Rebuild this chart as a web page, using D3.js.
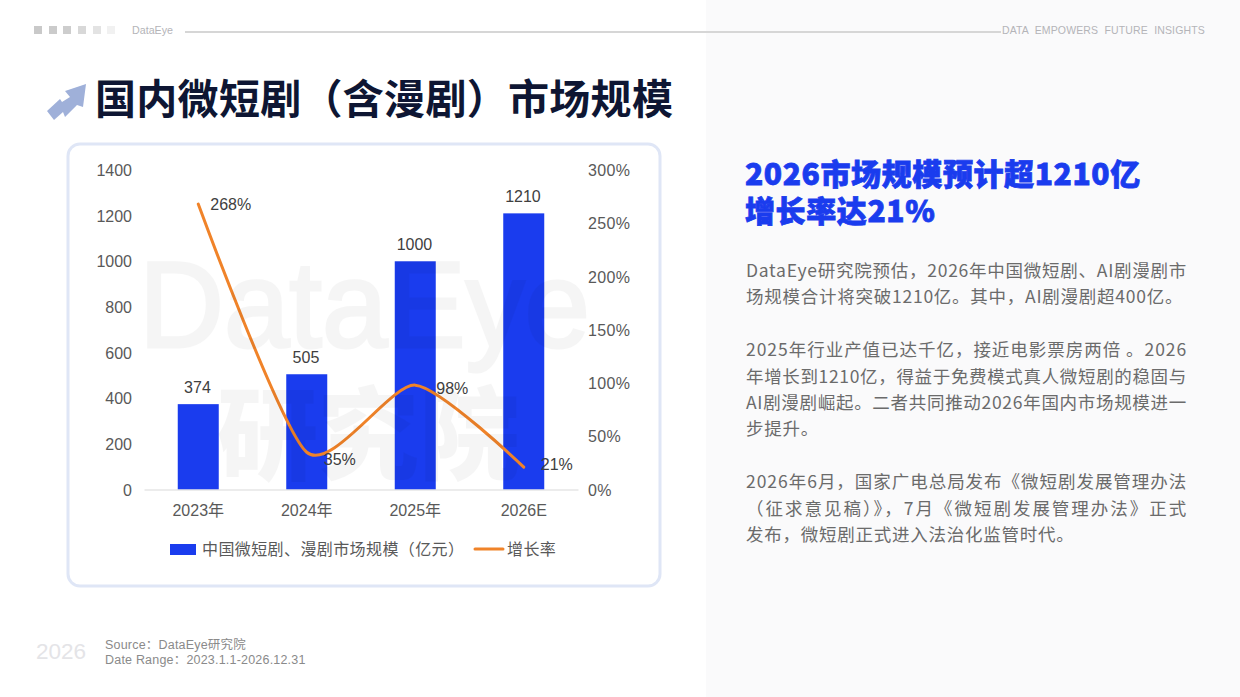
<!DOCTYPE html>
<html>
<head>
<meta charset="utf-8">
<script src="https://d3js.org/d3.v7.min.js"></script>
<style>
  html, body { margin: 0; padding: 0; background: #fff; overflow: hidden; }
  text { font-family: "Liberation Sans", "Noto Sans CJK SC", sans-serif; }
  .cjk { font-family: "Noto Sans CJK SC", sans-serif; }
  .tick text { font-size: 16px; fill: #595959; }
  .right-axis .tick text { letter-spacing: .35px; }
  .body-line { font-size: 17.5px; fill: #6b6b6b; letter-spacing: .75px; }
  .value-label { font-size: 16px; fill: #404040; }
</style>
</head>
<body>
<svg id="page" width="1240" height="697"></svg>
<script>

// chart data
var categories = ["2023年", "2024年", "2025年", "2026E"]
var marketSize = [374, 505, 1000, 1210]
var growthRate = [268, 35, 98, 21]
var sizeTicks = [0, 200, 400, 600, 800, 1000, 1200, 1400]
var rateTicks = [0, 50, 100, 150, 200, 250, 300]

// copy
var titleText = "国内微短剧（含漫剧）市场规模"
var headline = ["2026市场规模预计超1210亿", "增长率达21%"]
var bodyLines = [
  "DataEye研究院预估，2026年中国微短剧、AI剧漫剧市",
  "场规模合计将突破1210亿。其中，AI剧漫剧超400亿。",
  "",
  "2025年行业产值已达千亿，接近电影票房两倍 。2026",
  "年增长到1210亿，得益于免费模式真人微短剧的稳固与",
  "AI剧漫剧崛起。二者共同推动2026年国内市场规模进一",
  "步提升。",
  "",
  "2026年6月，国家广电总局发布《微短剧发展管理办法",
  "（征求意见稿）》，7月《微短剧发展管理办法》正式",
  "发布，微短剧正式进入法治化监管时代。"
]
// these lines run the full column width in the original
var justified = [0, 3, 4, 5, 8, 9]

var svg = d3.select("#page")
var blue = "#1a3cee", orange = "#f08329"

/* page furniture */
svg.append("rect").attr("x", 706).attr("y", 0).attr("width", 534).attr("height", 697).attr("fill", "#fafafb")

var squareFill = ["#c9c9c9", "#cbcbcb", "#cdcdcd", "#d8d8d8", "#e3e3e3", "#f1f1f1"]
var squareX = [34, 49, 63, 78, 93, 107]
svg.selectAll(".sq").data(squareX).enter().append("rect")
    .attr("x", function(d) { return d })
    .attr("y", 26).attr("width", 8).attr("height", 8)
    .attr("fill", function(d, i) { return squareFill[i] })

svg.append("text").attr("x", 132).attr("y", 34).attr("font-size", 10.7).attr("fill", "#b4b4b8").text("DataEye")
svg.append("line").attr("x1", 185).attr("x2", 1001).attr("y1", 32).attr("y2", 32)
    .attr("stroke", "#d6d6d6").attr("stroke-width", 2)
svg.append("text").attr("x", 1002).attr("y", 33.5).attr("font-size", 10.5).attr("fill", "#b4b4b8")
    .attr("word-spacing", 3.2).attr("letter-spacing", .14).text("DATA EMPOWERS FUTURE INSIGHTS")

// little arrow next to the title
svg.append("polygon")
    .attr("points", "86,84 65,91 70,97 62,102 60,99 47,111 54,120 63,112 65,117 77,105 83,107")
    .attr("fill", "#9fb0d9")

svg.append("text").attr("class", "cjk").attr("x", 95).attr("y", 114)
    .attr("font-size", 41).attr("font-weight", 700).attr("letter-spacing", .3).attr("fill", "#0e1633")
    .text(titleText)

/* card */
svg.append("rect").attr("x", 68).attr("y", 144).attr("width", 592).attr("height", 442).attr("rx", 12)
    .attr("fill", "#fff").attr("stroke", "#dfe6f6").attr("stroke-width", 3)

/* chart */
var x = d3.scaleBand().domain(categories).range([144, 578])
var yLeft = d3.scaleLinear().domain([0, 1400]).range([489.5, 170])
var yRight = d3.scaleLinear().domain([0, 300]).range([489.5, 170])
var barWidth = 41
var cx = function(c) { return x(c) + x.bandwidth() / 2 }

svg.append("g").attr("transform", "translate(132,0.5)")
    .call(d3.axisLeft(yLeft).tickValues(sizeTicks).tickSize(0).tickPadding(0).tickFormat(d3.format("d")))
    .call(function(g) { g.select(".domain").remove() })

svg.append("g").attr("class", "right-axis").attr("transform", "translate(588,0.5)")
    .call(d3.axisRight(yRight).tickValues(rateTicks).tickSize(0).tickPadding(0).tickFormat(function(d) { return d + "%" }))
    .call(function(g) { g.select(".domain").remove() })

svg.selectAll(".bar").data(marketSize).enter().append("rect")
    .attr("class", "bar")
    .attr("x", function(d, i) { return cx(categories[i]) - barWidth / 2 })
    .attr("width", barWidth)
    .attr("y", function(d) { return yLeft(d) })
    .attr("height", function(d) { return yLeft(0) - yLeft(d) })
    .attr("fill", blue)

svg.append("g").attr("transform", "translate(0,489.5)")
    .call(d3.axisBottom(x).tickSize(0).tickPadding(15))
    .call(function(g) { g.select(".domain").attr("stroke", "#d9d9d9").attr("stroke-width", 1.2) })

var line = d3.line()
    .x(function(d, i) { return cx(categories[i]) })
    .y(function(d) { return yRight(d) })
    .curve(d3.curveCardinal.tension(.32))

svg.append("path").datum(growthRate)
    .attr("d", line)
    .attr("fill", "none").attr("stroke", orange).attr("stroke-width", 3).attr("stroke-linecap", "round")

svg.selectAll(".bar-label").data(marketSize).enter().append("text")
    .attr("class", "value-label")
    .attr("x", function(d, i) { return cx(categories[i]) - 0.8 })
    .attr("y", function(d) { return yLeft(d) - 11 })
    .attr("text-anchor", "middle")
    .text(function(d) { return d })

// rate labels sit to the right of each point
var rateDx = [12, 17, 21, 17], rateDy = [6, 13, 9, 3]
svg.selectAll(".rate-label").data(growthRate).enter().append("text")
    .attr("class", "value-label")
    .attr("x", function(d, i) { return cx(categories[i]) + rateDx[i] })
    .attr("y", function(d, i) { return yRight(d) + rateDy[i] })
    .text(function(d) { return d + "%" })

/* legend */
svg.append("rect").attr("x", 170).attr("y", 544).attr("width", 26).attr("height", 11).attr("fill", blue)
svg.append("text").attr("class", "cjk").attr("x", 202).attr("y", 554.5).attr("font-size", 16)
    .attr("textLength", 262)
    .attr("fill", "#595959").text("中国微短剧、漫剧市场规模（亿元）")
svg.append("line").attr("x1", 475).attr("x2", 503).attr("y1", 549).attr("y2", 549)
    .attr("stroke", orange).attr("stroke-width", 3).attr("stroke-linecap", "round")
svg.append("text").attr("class", "cjk").attr("x", 507).attr("y", 554.5).attr("font-size", 16).attr("letter-spacing", .4)
    .attr("fill", "#595959").text("增长率")

/* watermark goes over the bars */
var mark = svg.append("g").attr("opacity", .035)
mark.append("text").attr("x", 139).attr("y", 347).attr("font-size", 122).attr("font-family", "Inter, sans-serif")
    .attr("textLength", 451).attr("lengthAdjust", "spacingAndGlyphs")
    .attr("fill", "#000").attr("stroke", "#000").attr("stroke-width", 3).text("DataEye")
mark.append("text").attr("class", "cjk").attr("x", 217).attr("y", 472).attr("font-size", 101).attr("font-weight", 900)
    .attr("fill", "#000").text("研究院")

/* right panel */
svg.selectAll(".headline").data(headline).enter().append("text")
    .attr("class", "cjk")
    .attr("x", 745)
    .attr("y", function(d, i) { return 185 + i * 37 })
    .attr("font-size", 30).attr("font-weight", 900).attr("letter-spacing", .6)
    .attr("fill", blue).attr("stroke", blue).attr("stroke-width", .8)
    .text(function(d) { return d })

svg.selectAll(".body-line").data(bodyLines).enter().append("text")
    .attr("class", "body-line cjk")
    .attr("x", 746)
    .attr("y", function(d, i) { return 277 + i * 26.4 })
    .attr("textLength", function(d, i) { return justified.indexOf(i) >= 0 ? 441 : null })
    .text(function(d) { return d })

/* footer */
svg.append("text").attr("x", 36).attr("y", 659).attr("font-size", 22.5).attr("fill", "#e4e4e7").text("2026")
svg.append("text").attr("x", 105).attr("y", 649).attr("font-size", 12.5).attr("letter-spacing", .2).attr("fill", "#8a8a8a").text("Source：DataEye研究院")
svg.append("text").attr("x", 105).attr("y", 664).attr("font-size", 12.5).attr("letter-spacing", .2).attr("fill", "#8a8a8a").text("Date Range：2023.1.1-2026.12.31")

</script>
</body>
</html>
